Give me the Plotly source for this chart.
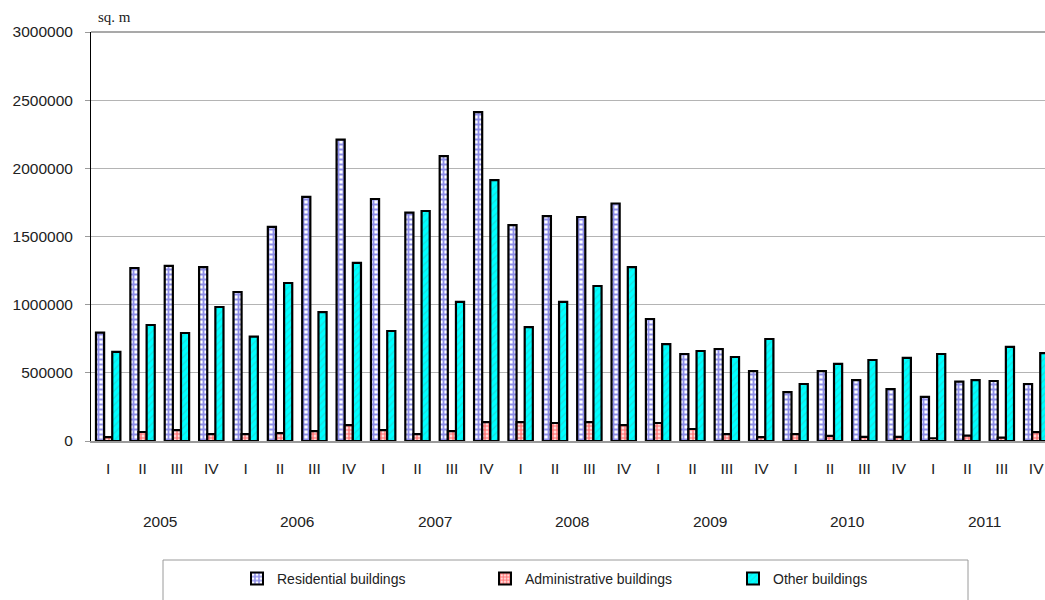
import plotly.graph_objects as go

quarters = ["I", "II", "III", "IV"] * 7
years = ["2005", "2006", "2007", "2008", "2009", "2010", "2011"]

residential = [795000, 1269000, 1284000, 1276000,
               1093000, 1570000, 1790000, 2210000,
               1775000, 1675000, 2090000, 2413000,
               1584000, 1650000, 1643000, 1742000,
               895000, 638000, 675000, 513000,
               359000, 513000, 447000, 381000,
               323000, 435000, 440000, 418000]
administrative = [29000, 66000, 80000, 51000,
                  51000, 58000, 73000, 117000,
                  80000, 51000, 73000, 139000,
                  139000, 132000, 139000, 117000,
                  132000, 88000, 51000, 29000,
                  51000, 37000, 30000, 30000,
                  20000, 40000, 25000, 65000]
other = [653000, 851000, 792000, 983000,
         765000, 1159000, 946000, 1306000,
         807000, 1687000, 1020000, 1914000,
         836000, 1020000, 1137000, 1276000,
         711000, 660000, 616000, 748000,
         418000, 565000, 594000, 609000,
         638000, 447000, 690000, 645000]

x = list(range(len(quarters)))
font_fam = "Liberation Sans, Arial, sans-serif"

fig = go.Figure()
fig.add_trace(go.Bar(
    x=x, y=residential, name="Residential buildings",
    marker=dict(color="white", line=dict(color="black", width=2.2),
                pattern=dict(shape="+", fgcolor="#1e1ed2", bgcolor="white",
                             size=5, solidity=0.6)),
))
fig.add_trace(go.Bar(
    x=x, y=administrative, name="Administrative buildings",
    marker=dict(color="white", line=dict(color="black", width=2.2),
                pattern=dict(shape=".", fgcolor="#ff0000", bgcolor="white",
                             size=4, solidity=0.7)),
))
fig.add_trace(go.Bar(
    x=x, y=other, name="Other buildings",
    marker=dict(color="#00ffff", line=dict(color="black", width=2.2),
                pattern=dict(shape="/", fgcolor="#33bbbb", bgcolor="#00ffff",
                             size=5, solidity=0.25)),
))

annotations = []
for i, yr in enumerate(years):
    annotations.append(dict(
        x=i * 4 + 1.5, y=(441 - 521) / 409, xref="x", yref="paper",
        text=yr, showarrow=False, font=dict(size=15.5, color="#222", family=font_fam),
        xanchor="center", yanchor="middle"))
annotations.append(dict(
    x=(96 - 91) / 954, y=1 + (32 - 17) / 409, xref="paper", yref="paper",
    text="sq. m", showarrow=False, xanchor="left", yanchor="middle",
    font=dict(size=15, color="#222", family="Liberation Serif, Times New Roman, serif")))

fig.update_layout(
    width=1045, height=600,
    margin=dict(l=91, r=0, t=32, b=159, autoexpand=False),
    paper_bgcolor="white", plot_bgcolor="white",
    barmode="group", bargap=0.29, bargroupgap=0,
    font=dict(family=font_fam, size=15.5, color="#222"),
    xaxis=dict(
        range=[-0.5, -0.5 + 954 / 34.37],
        tickmode="array", tickvals=x, ticktext=quarters,
        showgrid=False, zeroline=False,
        showline=True, linecolor="#9a9a9a", linewidth=2,
        ticks="outside", ticklen=12, tickcolor="rgba(0,0,0,0)",
        tickfont=dict(size=15.5, color="#222", family=font_fam),
    ),
    yaxis=dict(
        range=[0, 3000000], dtick=500000, tickformat="d",
        showgrid=True, gridcolor="#b4b4b4", gridwidth=1,
        zeroline=False,
        showline=True, linecolor="black", linewidth=1,
        ticks="outside", ticklen=5, tickcolor="#9a9a9a",
        ticklabelstandoff=9,
        tickfont=dict(size=15.5, color="#222", family=font_fam),
    ),
    showlegend=True,
    legend=dict(
        orientation="h", x=(237 - 91) / 954, xanchor="left",
        y=(441 - 563) / 409, yanchor="top",
        entrywidth=203, entrywidthmode="pixels",
        font=dict(size=14, color="#222", family=font_fam),
        bgcolor="rgba(0,0,0,0)", borderwidth=0,
        itemsizing="constant",
    ),
    annotations=annotations,
    shapes=[dict(type="rect", xref="paper", yref="paper",
                 x0=(163 - 91) / 954, x1=(968 - 91) / 954,
                 y0=(441 - 560) / 409, y1=(441 - 640) / 409,
                 line=dict(color="#9a9a9a", width=1), fillcolor="rgba(0,0,0,0)"),
            dict(type="line", xref="paper", yref="paper",
                 x0=0, x1=1, y0=1, y1=1, line=dict(color="#8c8c8c", width=1.5))],
)

fig.write_html(
    "out.html",
    config={"displayModeBar": False},
    post_script="document.body.style.margin='0';document.body.style.overflow='hidden';",
)
